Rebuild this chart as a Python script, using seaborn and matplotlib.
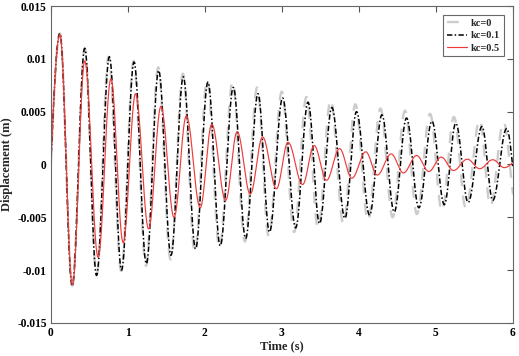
import numpy as np
import pandas as pd
import matplotlib
matplotlib.use("Agg")
import matplotlib.pyplot as plt
import seaborn as sns

# ---- data (extrema of each displacement trace) ----
labels = ["kc=0", "kc=0.1", "kc=0.5"]

# kc=0 (gray dashed)
kc0_peak_t = [0.117, 0.44, 0.75, 1.075, 1.395, 1.715, 2.03, 2.36, 2.68, 3.0, 3.32,
              3.635, 3.955, 4.28, 4.60, 4.925, 5.235, 5.57, 5.88]
kc0_peak_y = [0.0124, 0.0110, 0.0102, 0.0098, 0.0092, 0.0086, 0.0080, 0.0078, 0.0073,
              0.0069, 0.0064, 0.0061, 0.0057, 0.0053, 0.0051, 0.0048, 0.0045, 0.0042, 0.0040]
kc0_trough_t = [0.277, 0.593, 0.915, 1.235, 1.555, 1.87, 2.19, 2.52, 2.83, 3.16, 3.47,
                3.80, 4.12, 4.44, 4.755, 5.08, 5.39, 5.71, 6.04]
kc0_trough_y = [-0.0115, -0.0105, -0.0101, -0.0096, -0.0090, -0.0083, -0.0079, -0.0073,
                -0.0068, -0.0064, -0.0060, -0.0056, -0.0053, -0.0050, -0.0047, -0.0044,
                -0.0041, -0.0039, -0.0038]

# kc=0.1 (black dash-dot)
kc01_peak_t = [0.117, 0.44, 0.76, 1.08, 1.40, 1.72, 2.04, 2.37, 2.69, 3.01, 3.34,
               3.65, 3.97, 4.30, 4.62, 4.95, 5.26, 5.60, 5.92]
kc01_peak_y = [0.0124, 0.0110, 0.0102, 0.0097, 0.0089, 0.0083, 0.0078, 0.0073, 0.0067,
               0.0063, 0.0059, 0.0054, 0.0050, 0.0047, 0.0044, 0.0041, 0.0039, 0.0036, 0.0034]
kc01_trough_t = [0.277, 0.593, 0.918, 1.24, 1.56, 1.88, 2.20, 2.53, 2.84, 3.18, 3.49,
                 3.82, 4.14, 4.46, 4.78, 5.11, 5.42, 5.74, 6.07]
kc01_trough_y = [-0.0115, -0.0105, -0.0100, -0.0094, -0.0086, -0.0080, -0.0077, -0.0070,
                 -0.0064, -0.0060, -0.0056, -0.0051, -0.0048, -0.0045, -0.0041, -0.0038,
                 -0.0036, -0.0034, -0.0032]

# kc=0.5 (red solid)
kc05_peak_t = [0.117, 0.44, 0.78, 1.10, 1.43, 1.76, 2.09, 2.42, 2.75, 3.08, 3.42,
               3.75, 4.09, 4.42, 4.75, 5.07, 5.41, 5.74, 6.07]
kc05_peak_y = [0.0123, 0.0098, 0.0081, 0.0067, 0.0055, 0.0046, 0.0038, 0.0031, 0.0026,
               0.0021, 0.0018, 0.0015, 0.0012, 0.0010, 0.00085, 0.0007, 0.0005, 0.00045, 0.0004]
kc05_trough_t = [0.28, 0.614, 0.939, 1.27, 1.60, 1.94, 2.27, 2.59, 2.93, 3.27, 3.58,
                 3.91, 4.24, 4.58, 4.91, 5.23, 5.57, 5.89]
kc05_trough_y = [-0.0114, -0.0088, -0.0074, -0.0061, -0.0050, -0.0041, -0.0034, -0.0028,
                 -0.0023, -0.0019, -0.0015, -0.0013, -0.0010, -0.0008, -0.00066, -0.00057,
                 -0.0004, -0.0003]

x_ticks = [0, 1, 2, 3, 4, 5, 6]
y_ticks = [-0.015, -0.01, -0.005, 0, 0.005, 0.01, 0.015]
y_ticklabels = ["-0.015", "-0.01", "-0.005", "0", "0.005", "0.01", "0.015"]


def trace(pt, py, tt, ty, n=40):
    """Smooth curve through the read extrema: starts at (0,0)."""
    ext = sorted(list(zip(pt, py)) + list(zip(tt, ty)))
    ts, ys = [0.0], [0.0]
    t1, y1 = ext[0]
    s = np.linspace(0, 1, n)[1:]
    ts += list(t1 * s)
    ys += list(y1 * np.sin(np.pi / 2 * s))
    for (a, ya), (b, yb) in zip(ext[:-1], ext[1:]):
        ts += list(a + (b - a) * s)
        ys += list(ya + (yb - ya) * (1 - np.cos(np.pi * s)) / 2)
    return np.array(ts), np.array(ys)


frames = []
for lab, arrs in zip(labels, [(kc0_peak_t, kc0_peak_y, kc0_trough_t, kc0_trough_y),
                              (kc01_peak_t, kc01_peak_y, kc01_trough_t, kc01_trough_y),
                              (kc05_peak_t, kc05_peak_y, kc05_trough_t, kc05_trough_y)]):
    t, y = trace(*arrs)
    frames.append(pd.DataFrame({"t": t, "y": y, "case": lab}))
df = pd.concat(frames, ignore_index=True)

sns.set_style("white")
plt.rcParams["font.family"] = ["Liberation Serif", "DejaVu Serif"]
plt.rcParams["font.weight"] = "bold"

fig = plt.figure(figsize=(5.19, 3.56), dpi=100)
ax = fig.add_axes([0.098, 0.093, 0.890, 0.890])

styles = {
    "kc=0": dict(color="#cccccc", lw=1.7, dashes=(5, 4)),
    "kc=0.1": dict(color="black", lw=1.1, dashes=(3.5, 1.5, 1, 1.5)),
    "kc=0.5": dict(color="#f03a3a", lw=0.85, dashes=()),
}
for lab in labels:
    st = styles[lab]
    sub = df[df["case"] == lab]
    sns.lineplot(data=sub, x="t", y="y", ax=ax, color=st["color"], lw=st["lw"],
                 label=lab, sort=False, estimator=None)
    l = ax.lines[-1]
    if st["dashes"]:
        l.set_dashes(st["dashes"])

ax.set_xlim(0, 6)
ax.set_ylim(-0.015, 0.015)
ax.set_xticks(x_ticks)
ax.set_xticklabels([str(v) for v in x_ticks])
ax.set_yticks(y_ticks)
ax.set_yticklabels(y_ticklabels)
ax.tick_params(direction="in", length=4, width=0.8, colors="#555555", labelcolor="black",
               labelsize=8.3, top=True, right=True, pad=3)
for lab in ax.get_xticklabels() + ax.get_yticklabels():
    lab.set_fontweight("bold")
for sp in ax.spines.values():
    sp.set_visible(True)
    sp.set_color("#666666")
    sp.set_linewidth(0.8)
ax.set_xlabel("Time (s)", fontsize=9, fontweight="bold", labelpad=1)
ax.set_ylabel("Displacement (m)", fontsize=9, fontweight="bold", labelpad=3)

leg = ax.legend(loc="upper right", fontsize=7.5, frameon=True, fancybox=False,
                edgecolor="#444444", handlelength=1.9, borderpad=0.35, labelspacing=0.3,
                handletextpad=0.4, borderaxespad=0.0, bbox_to_anchor=(0.981, 0.972))
leg.get_frame().set_linewidth(0.8)
for txt in leg.get_texts():
    txt.set_fontweight("bold")

fig.savefig("out.png", dpi=100)
